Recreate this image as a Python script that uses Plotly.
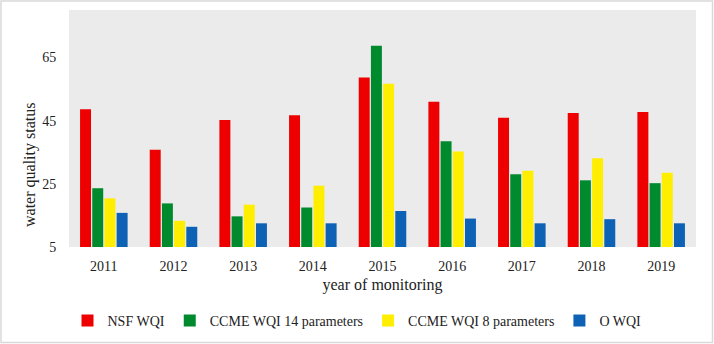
import plotly.graph_objects as go

years = ["2011", "2012", "2013", "2014", "2015", "2016", "2017", "2018", "2019"]
nsf_wqi = [48.6, 35.8, 45.2, 46.7, 58.6, 51.0, 45.9, 47.4, 47.7]
ccme14 = [23.6, 18.8, 14.7, 17.5, 68.7, 38.5, 28.0, 26.1, 25.2]
ccme8 = [20.4, 13.3, 18.4, 24.4, 56.7, 35.2, 29.1, 33.1, 28.5]
o_wqi = [15.8, 11.4, 12.5, 12.5, 16.4, 14.0, 12.5, 13.8, 12.5]
series_names = ["NSF WQI", "CCME WQI 14 parameters", "CCME WQI 8 parameters", "O WQI"]
colors = ["#EE0000", "#008A2E", "#FFEE00", "#0E62B5"]
y_ticks = [5, 25, 45, 65]

W, H = 714, 344
ML, MR, MT, MB = 69, 18, 10, 97
font = "Liberation Serif"

fig = go.Figure()
for name, vals, c in zip(series_names, [nsf_wqi, ccme14, ccme8, o_wqi], colors):
    fig.add_trace(go.Bar(x=years, y=vals, name=name, marker=dict(color=c, line=dict(width=0))))

pw = W - ML - MR
ph = H - MT - MB
fig.add_shape(type="rect", xref="paper", yref="paper",
              x0=-(ML - 1) / pw, x1=1 + (MR - 1.5) / pw,
              y0=-(MB - 1.5) / ph, y1=1 + (MT - 1) / ph,
              line=dict(color="#D9D9D9", width=1.5), fillcolor="rgba(0,0,0,0)", layer="below")

fig.add_annotation(text="water quality status", xref="paper", yref="paper",
                   x=-(ML - 30) / pw, y=1 - (165 - MT) / ph, textangle=-90,
                   showarrow=False, font=dict(family=font, size=16, color="#222"),
                   xanchor="center", yanchor="middle")

fig.update_layout(
    width=W, height=H,
    margin=dict(l=ML, r=MR, t=MT, b=MB),
    paper_bgcolor="white", plot_bgcolor="#EBEBEB",
    barmode="group", bargap=0.3, bargroupgap=0.1,
    font=dict(family=font, size=14, color="#222"),
    showlegend=True,
    legend=dict(orientation="h", xref="container", yref="container", x=0.5, xanchor="center",
                y=23 / H, yanchor="middle", font=dict(size=14), itemwidth=30,
                traceorder="normal"),
    xaxis=dict(showgrid=False, zeroline=False, showline=False, ticks="outside", ticklen=6,
               tickcolor="rgba(0,0,0,0)", tickfont=dict(size=14),
               title=dict(text="year of monitoring", font=dict(size=16), standoff=6)),
    yaxis=dict(range=[5, 80], tickvals=y_ticks, showgrid=False, zeroline=False, showline=False,
               ticks="outside", ticklen=9, tickcolor="rgba(0,0,0,0)", tickfont=dict(size=14)),
)
fig.write_html("out.html", config={"displayModeBar": False},
               post_script="document.body.style.margin='0';")
